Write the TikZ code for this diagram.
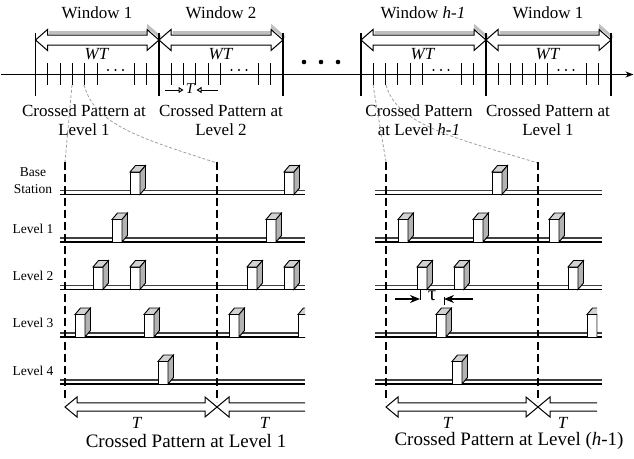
\documentclass[tikz,border=0pt]{standalone}
\usepackage{fontspec}
\setmainfont{Liberation Serif}
\usetikzlibrary{arrows.meta,positioning}

\begin{document}
\begin{tikzpicture}[
  x=1pt, y=-1pt,
  every node/.style={inner sep=1pt},
  titulo/.style={font=\fontsize{17}{19}\selectfont, align=center},
  pie/.style={font=\fontsize{19}{22}\selectfont},
  fila/.style={font=\fontsize{13.5}{17}\selectfont, align=center},
  eje/.style={line width=1.1pt},
  limite/.style={line width=1.2pt},
  marca/.style={line width=1pt},
  hueco/.style={draw, line width=1pt, fill=white},
  sombra/.style={draw=gray!50, line width=3pt},
  guia/.style={draw=gray!75, line width=0.8pt, dash pattern=on 3pt off 2pt},
  corte/.style={line width=1.1pt, dash pattern=on 8pt off 4pt},
  arriba/.style={draw=gray!50!black, line width=1.1pt},
  abajo/.style={draw=black, line width=1.3pt},
  frente/.style={draw, line width=0.9pt, fill=white},
  lado/.style={draw, line width=0.9pt, fill=gray!60},
  tapa/.style={draw, line width=0.9pt, fill=gray!35},
  flechat/.style={line width=1.4pt, -{Stealth[length=10pt, width=8pt]}},
  flechaT/.style={line width=1pt, -{Triangle[open, length=5pt, width=6pt]}}
]
  \useasboundingbox (0,0) rectangle (634,458);

  %% ── Eje de tiempo ────────────────────────────────────────
  \draw[eje, -{Stealth[length=8pt, width=6pt]}] (1,74.5) -- (633.5,74.5);

  %% ── Ventanas: flechas WT, límites y marcas ───────────────
  \foreach \a/\b in {35.5/159, 159/283, 361/486, 486/611} {
    \draw[sombra] (\a+13.5,32.5) -- (\b-10.5,32.5) -- (\b-10.5,27) -- (\b+1.5,37.5);
    \draw[hueco] (\a,40) -- (\a+12,29.5) -- (\a+12,35) -- (\b-12,35)
      -- (\b-12,29.5) -- (\b,40) -- (\b-12,50.5) -- (\b-12,45)
      -- (\a+12,45) -- (\a+12,50.5) -- cycle;
    \draw[limite] (\a,33) -- (\a,96);
    \draw[limite] (\b,33) -- (\b,96);
    \foreach \d in {12.3,24.6,36.9,49.2,61.5}
      \draw[marca] (\a+\d,63) -- (\a+\d,85);
    \foreach \d in {12.3,24.6}
      \draw[marca] (\b-\d,63) -- (\b-\d,85);
    \foreach \d in {72.5,80,87.5}
      \fill (\a+\d,70) circle (1.1);
  }
  \foreach \xx in {304,321,338}
    \fill (\xx,62) circle (2.3);

  %% ── Textos de las ventanas ───────────────────────────────
  \node[titulo] (W1) at (97,12.5) {Window 1};
  \node[titulo] (W2) at (221,12.5) {Window 2};
  \node[titulo] (Wh) at (423,12.5) {Window \textit{h-1}};
  \node[titulo] (W1b) at (548,12.5) {Window 1};
  \foreach \xx/\nm in {97/wt1, 221/wt2, 423/wth, 548/wt1b}
    \node[titulo] (\nm) at (\xx,54) {\textit{WT}};

  \node[titulo] (cp1) at (84,120) {Crossed Pattern at\\Level 1};
  \node[titulo] (cp2) at (221,120) {Crossed Pattern at\\Level 2};
  \node[titulo] (cph) at (419,120) {Crossed Pattern\\at Level \textit{h-1}};
  \node[titulo] (cp1b) at (548,120) {Crossed Pattern at\\Level 1};

  %% ── T entre dos marcas ───────────────────────────────────
  \node[font=\fontsize{15}{17}\selectfont] (Tt) at (190.5,89) {\textit{T}};
  \coordinate (ti) at (165,90);
  \coordinate (td) at (218,90);
  \draw[flechaT] (ti) -- (183.5,90);
  \draw[flechaT] (td) -- (196.5,90);

  %% ── Guías grises hacia los patrones ──────────────────────
  \draw[guia] (72,85) -- (65,162);
  \draw[guia] (84,85) .. controls (95,125) and (140,138) .. (217,163);
  \draw[guia] (373,85) -- (386,162);
  \draw[guia] (386,85) .. controls (397,125) and (455,138) .. (538,163);

  %% ── Filas por nivel ──────────────────────────────────────
  \node[fila] (bs) at (33,181) {Base\\Station};
  \node[fila] (n1) at (33,229) {Level 1};
  \node[fila] (n2) at (33,276) {Level 2};
  \node[fila] (n3) at (33,323) {Level 3};
  \node[fila] (n4) at (33,371) {Level 4};

  \foreach \yb in {194.5,242,289.5,337,384} {
    \draw[arriba] (60,\yb-4) -- (305,\yb-4);
    \draw[abajo] (60,\yb) -- (305,\yb);
    \draw[arriba] (375,\yb-4) -- (602,\yb-4);
    \draw[abajo] (375,\yb) -- (602,\yb);
  }

  %% ── Cortes de periodo T ──────────────────────────────────
  \foreach \xx in {65,217,386,538}
    \draw[corte] (\xx,162) -- (\xx,402);

  \begin{scope}
    \clip (0,150) rectangle (305,458) (370,150) rectangle (597,458);
    %% paquetes
    \foreach \yb/\lista in {194.5/{130,284,492},
                            242/{112,266,398,473,549},
                            289.5/{93,130,247,284,417,454,568},
                            337/{75,144,229,298,436,587},
                            384/{158,452}} {
      \foreach \xb in \lista {
        \draw[frente] (\xb,\yb) rectangle (\xb+10,\yb-22.5);
        \draw[tapa] (\xb,\yb-22.5) -- (\xb+5.5,\yb-29) -- (\xb+15.5,\yb-29)
          -- (\xb+10,\yb-22.5) -- cycle;
        \draw[lado] (\xb+10,\yb) -- (\xb+15.5,\yb-6.5) -- (\xb+15.5,\yb-29)
          -- (\xb+10,\yb-22.5) -- cycle;
      }
    }
    %% flechas T inferiores
    \foreach \a/\b in {65/217, 217/369, 386/538, 538/690}
      \draw[hueco] (\a,407) -- (\a+12,397) -- (\a+12,402.8) -- (\b-12,402.8)
        -- (\b-12,397) -- (\b,407) -- (\b-12,417) -- (\b-12,411.2)
        -- (\a+12,411.2) -- (\a+12,417) -- cycle;
  \end{scope}

  %% ── Separación tau ───────────────────────────────────────
  \node[font=\fontsize{21}{23}\selectfont] (tau) at (432,296) {τ};
  \coordinate (ui) at (395,299);
  \coordinate (ud) at (473,299);
  \draw[marca] (420,290) -- (420,300);
  \draw[marca] (444,297) -- (444,305);
  \draw[flechat] (ui) -- (420,299);
  \draw[flechat] (ud) -- (444,299);

  %% ── Leyendas inferiores ──────────────────────────────────
  \foreach \xx/\nm in {137/T1, 265/T2, 448/T3, 563/T4}
    \node[titulo] (\nm) at (\xx,423) {\textit{T}};
  \node[pie] (pa) at (186,441) {Crossed Pattern at Level 1};
  \node[pie] (pb) at (509,441) {Crossed Pattern at Level (\textit{h}-1)};

\end{tikzpicture}
\end{document}
